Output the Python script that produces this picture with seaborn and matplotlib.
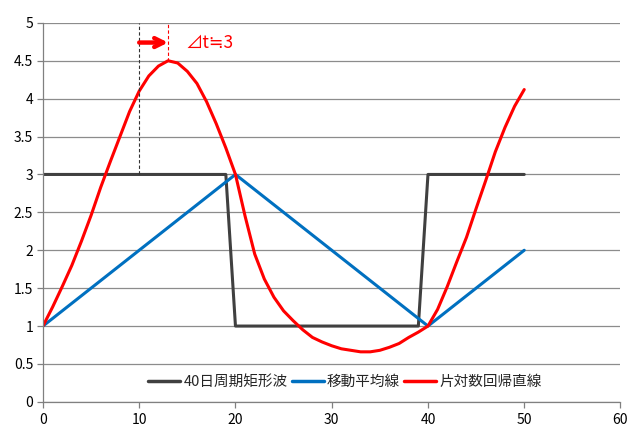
import numpy as np
import pandas as pd
import matplotlib
matplotlib.use("Agg")
import matplotlib.pyplot as plt
import seaborn as sns


DAYS = list(range(0, 51))

SQUARE_WAVE = [3] * 20 + [1] * 20 + [3] * 11

MOVING_AVG = [
    1.0, 1.1, 1.2, 1.3, 1.4, 1.5, 1.6, 1.7, 1.8, 1.9,
    2.0, 2.1, 2.2, 2.3, 2.4, 2.5, 2.6, 2.7, 2.8, 2.9,
    3.0, 2.9, 2.8, 2.7, 2.6, 2.5, 2.4, 2.3, 2.2, 2.1,
    2.0, 1.9, 1.8, 1.7, 1.6, 1.5, 1.4, 1.3, 1.2, 1.1,
    1.0, 1.1, 1.2, 1.3, 1.4, 1.5, 1.6, 1.7, 1.8, 1.9,
    2.0,
]

LOG_REGRESSION = [
    1.00, 1.25, 1.52, 1.80, 2.12, 2.46, 2.83, 3.17, 3.50, 3.83,
    4.10, 4.30, 4.43, 4.50, 4.47, 4.36, 4.20, 3.96, 3.67, 3.35,
    3.00, 2.45, 1.95, 1.62, 1.38, 1.20, 1.07, 0.95, 0.85, 0.79,
    0.74, 0.70, 0.68, 0.66, 0.66, 0.68, 0.72, 0.77, 0.85, 0.92,
    1.00, 1.22, 1.52, 1.85, 2.17, 2.55, 2.92, 3.30, 3.62, 3.90,
    4.12,
]

SERIES_NAMES = ["40日周期矩形波", "移動平均線", "片対数回帰直線"]
SERIES_COLORS = ["#404040", "#0070C0", "#FF0000"]

# lag annotation: moving average peak vs regression peak
LAG_START = 10
LAG_END = 13
LAG_LABEL = "⊿t≒3"

X_TICKS = [0, 10, 20, 30, 40, 50, 60]
Y_TICKS = [0, 0.5, 1, 1.5, 2, 2.5, 3, 3.5, 4, 4.5, 5]

df = pd.DataFrame({
    "day": DAYS * 3,
    "value": SQUARE_WAVE + MOVING_AVG + LOG_REGRESSION,
    "series": [SERIES_NAMES[0]] * len(DAYS)
    + [SERIES_NAMES[1]] * len(DAYS)
    + [SERIES_NAMES[2]] * len(DAYS),
})

sns.set_style("white")
plt.rcParams["font.family"] = ["Noto Sans CJK JP", "DejaVu Sans"]

fig = plt.figure(figsize=(6.41, 4.48), dpi=100)
ax = fig.add_axes([0.067, 0.103, 0.901, 0.846])

sns.lineplot(
    data=df,
    x="day",
    y="value",
    hue="series",
    hue_order=SERIES_NAMES,
    palette=SERIES_COLORS,
    linewidth=2.2,
    ax=ax,
)

ax.set_xlim(0, 60)
ax.set_ylim(0, 5)
ax.set_xticks(X_TICKS)
ax.set_yticks(Y_TICKS)
ax.set_yticklabels([f"{v:g}" for v in Y_TICKS])
ax.set_xlabel("")
ax.set_ylabel("")
ax.yaxis.grid(True, color="#8c8c8c", linewidth=0.9)
ax.set_axisbelow(True)
ax.tick_params(axis="both", labelsize=10, colors="#808080", labelcolor="black",
               length=4, width=0.9, direction="out", bottom=True, left=True)
ax.tick_params(axis="x", pad=4)
ax.tick_params(axis="y", pad=3)
for side in ["top", "right"]:
    ax.spines[side].set_visible(False)
for side in ["left", "bottom"]:
    ax.spines[side].set_color("#808080")
    ax.spines[side].set_linewidth(0.9)

# dashed guides and lag arrow
top = Y_TICKS[-1]
ax.plot([LAG_START, LAG_START], [SQUARE_WAVE[0], top], color="#333333",
        linestyle=(0, (3, 2)), linewidth=0.8)
ax.plot([LAG_END, LAG_END], [max(LOG_REGRESSION), top], color="#FF0000",
        linestyle=(0, (3, 2)), linewidth=0.8)
ax.annotate(
    "",
    xy=(LAG_END, 4.74),
    xytext=(LAG_START, 4.74),
    arrowprops=dict(arrowstyle="->", color="#FF0000", lw=3.2, mutation_scale=16,
                    shrinkA=0, shrinkB=0),
)
ax.text(LAG_END + 1.8, 4.74, LAG_LABEL, color="#FF0000", fontsize=12.5,
        va="center", ha="left")

leg = ax.legend(
    loc="center",
    bbox_to_anchor=(0.523, 0.053),
    ncol=3,
    frameon=False,
    fontsize=10.5,
    handlelength=2.2,
    handletextpad=0.2,
    columnspacing=0.3,
    borderpad=0.2,
)
for line in leg.get_lines():
    line.set_linewidth(2.5)

fig.savefig("out.png", dpi=100)
